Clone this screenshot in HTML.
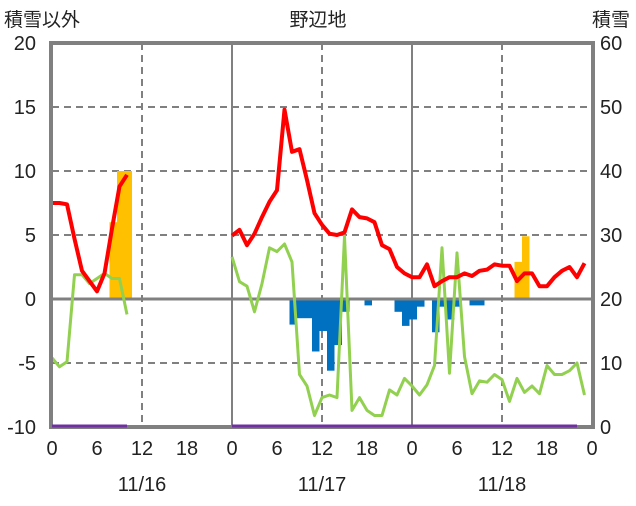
<!DOCTYPE html>
<html><head><meta charset="utf-8"><style>
body{margin:0;background:#fff;width:636px;height:501px;overflow:hidden}
text{font-family:"Liberation Sans","Noto Sans CJK JP",sans-serif;fill:#222}
</style></head><body>
<svg id="c" width="636" height="501"></svg>
<script>
const temp=[7.5,7.5,7.4,4.7,2.2,1.4,0.6,2.0,5.5,8.8,9.7,null,null,null,null,null,null,null,null,null,null,null,null,null,
4.95,5.4,4.2,5.1,6.4,7.6,8.5,14.8,11.5,11.7,9.3,6.7,5.8,5.1,5.0,5.2,7.0,6.4,6.3,6.0,4.2,3.9,2.5,2.0,
1.7,1.7,2.7,1.0,1.4,1.7,1.7,2.0,1.8,2.2,2.3,2.7,2.6,2.6,1.4,2.0,2.0,1.0,1.0,1.7,2.2,2.5,1.7,2.8];
const other=[-4.6,-5.3,-4.9,1.9,1.9,1.2,1.6,2.0,1.6,1.6,-1.2,null,null,null,null,null,null,null,null,null,null,null,null,null,
3.3,1.35,1.0,-1.0,1.2,4.0,3.7,4.3,2.9,-5.9,-6.8,-9.1,-7.7,-7.5,-7.7,4.9,-8.7,-7.7,-8.7,-9.1,-9.1,-7.1,-7.5,-6.2,
-6.8,-7.5,-6.7,-5.2,4.0,-5.8,3.6,-4.5,-7.4,-6.4,-6.5,-5.9,-6.3,-8.0,-6.2,-7.3,-6.8,-7.4,-5.2,-5.9,-5.9,-5.6,-5.0,-7.5];
const posBarHours=[8,9,10,62,63];
const posBarValues=[6,10,10,2.9,4.9];
const negBarHours=[32,33,34,35,36,37,38,39,42,46,47,48,49,51,52,53,54,56,57];
const negBarValues=[-2.0,-1.5,-1.5,-4.1,-2.5,-5.6,-3.6,-1.0,-0.5,-1.0,-2.1,-1.6,-0.6,-2.6,-0.6,-1.6,-0.6,-0.5,-0.5];
const snowDepth=[0,0,0,0,0,0,0,0,0,0,0,null,null,null,null,null,null,null,null,null,null,null,null,null].concat(new Array(47).fill(0));
const leftTicks=[20,15,10,5,0,-5,-10];
const rightTicks=[60,50,40,30,20,10,0];
const xTickLabels=["0","6","12","18","0","6","12","18","0","6","12","18","0"];
const dateLabels=["11/16","11/17","11/18"];

const X0=52,PH=7.5,T=43,B=427;
const x=h=>X0+PH*h;
const y=v=>299-12.8*v;
const yr=v=>B-6.4*v;
const svg=document.getElementById('c');
const NS='http://www.w3.org/2000/svg';
function el(t,a,p){const e=document.createElementNS(NS,t);for(const k in a)e.setAttribute(k,a[k]);(p||svg).appendChild(e);return e;}

[15,10,5,-5].forEach(v=>{
 const l=el('line',{x1:X0,x2:592,y1:y(v),y2:y(v),stroke:'#808080','stroke-width':2,'stroke-dasharray':'7,5'});
 
 
});
[12,36,60].forEach(h=>{
 const l=el('line',{x1:x(h),x2:x(h),y1:T,y2:B,stroke:'#808080','stroke-width':2,'stroke-dasharray':'7,5'});
 
 
});
[24,48].forEach(h=>{
 const l=el('line',{x1:x(h),x2:x(h),y1:T,y2:B,stroke:'#808080','stroke-width':2});
 
 
});
posBarHours.forEach((h,i)=>{
 const v=posBarValues[i];
 const r=el('rect',{x:x(h)-2.5,y:y(v),width:PH,height:y(0)-y(v),fill:'#FFC000'});
 
 
});
negBarHours.forEach((h,i)=>{
 const v=negBarValues[i];
 const r=el('rect',{x:x(h)-2.5,y:y(0),width:PH,height:y(v)-y(0),fill:'#0070C0'});
 
 
});
const zl=el('line',{x1:X0,x2:592,y1:y(0),y2:y(0),stroke:'#808080','stroke-width':3});



function path(arr,fy){
 let d='',pen=false;
 arr.forEach((v,h)=>{if(v==null){pen=false;return;}d+=(pen?'L':'M')+x(h).toFixed(1)+','+fy(v).toFixed(1);pen=true;});
 return d;
}
const g=el('path',{d:path(other,y),fill:'none',stroke:'#92D050','stroke-width':3,'stroke-linejoin':'round'});


const r=el('path',{d:path(temp,y),fill:'none',stroke:'#FF0000','stroke-width':4,'stroke-linejoin':'round'});



const fr=el('rect',{x:X0-1,y:T,width:592-X0+2,height:B-T,fill:'none',stroke:'#808080','stroke-width':4});



const p=el('path',{d:path(snowDepth,v=>yr(v)-1),fill:'none',stroke:'#7030A0','stroke-width':3});



leftTicks.forEach(v=>{
 const t=el('text',{x:36,y:y(v)+7,'text-anchor':'end','font-size':20});t.textContent=v;
 
 
});
rightTicks.forEach(v=>{
 const t=el('text',{x:600,y:yr(v)+7,'font-size':20});t.textContent=v;
 
 
});
xTickLabels.forEach((s,i)=>{
 const t=el('text',{x:x(i*6),y:455,'text-anchor':'middle','font-size':20});t.textContent=s;
 
 
});
dateLabels.forEach((s,i)=>{
 const t=el('text',{x:x(12+24*i),y:491,'text-anchor':'middle','font-size':20});t.textContent=s;
 
 
});
[[4,26,'start','積雪以外','left-axis-title'],[318,26,'middle','野辺地','chart-title'],[630,26,'end','積雪','right-axis-title']].forEach(a=>{
 const t=el('text',{x:a[0],y:a[1],'text-anchor':a[2],'font-size':19});t.textContent=a[3];
 
 
});
</script>
</body></html>
